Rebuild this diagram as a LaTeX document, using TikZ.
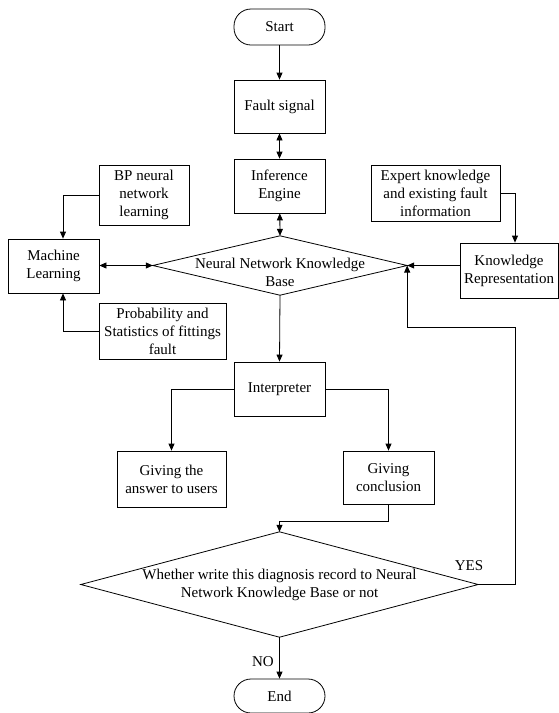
\documentclass[tikz,border=0pt]{standalone}
\usepackage{fontspec}
\setmainfont{Liberation Serif}
\usetikzlibrary{arrows.meta}
\begin{document}
\begin{tikzpicture}[x=1pt,y=-1pt,
  every node/.style={font=\fontsize{15}{18}\selectfont},
  box/.style={draw, line width=0.8pt, inner sep=0pt, align=center},
  term/.style={box, rounded corners=17pt, minimum width=91pt},
  shapebox/.style={inner sep=0pt},
  ln/.style={line width=0.8pt},
  arr/.style={ln, -{Triangle[length=7pt,width=6pt]}},
  darr/.style={ln, {Triangle[length=7pt,width=6pt]}-{Triangle[length=7pt,width=6pt]}}]
\useasboundingbox (0,0) rectangle (559,713);
% terminals
\node[term, minimum height=36pt] (start) at (279.5,27) {Start};
\node[term, minimum height=34pt] (end) at (279.5,696) {End};
% boxes
\node[box, minimum width=91pt, minimum height=53pt] (fault) at (279.5,106.5) {Fault signal};
\node[box, minimum width=91pt, minimum height=54pt] (infer) at (279.5,186) {Inference\\Engine};
\node[box, minimum width=90pt, minimum height=60pt] (bp) at (144,195) {BP neural\\network\\learning};
\node[box, minimum width=129pt, minimum height=56pt] (expert) at (435.5,193) {Expert knowledge\\and existing fault\\information};
\node[box, minimum width=91pt, minimum height=54pt] (ml) at (53.5,266) {Machine\\Learning};
\node[box, minimum width=98pt, minimum height=55pt] (kr) at (509,270.5) {Knowledge\\Representation};
\node[box, minimum width=127pt, minimum height=56pt] (prob) at (162.5,331) {Probability and\\Statistics of fittings\\fault};
\node[box, minimum width=91pt, minimum height=54pt] (interp) at (279.5,389) {Interpreter};
\node[box, minimum width=109pt, minimum height=56pt] (ans) at (171.5,479) {Giving the\\answer to users};
\node[box, minimum width=91pt, minimum height=53pt] (concl) at (388.5,477.5) {Giving\\conclusion};
% diamonds
\node[shapebox, minimum width=254pt, minimum height=59pt] (kb) at (280,265.5) {};
\draw[ln] (kb.north) -- (kb.east) -- (kb.south) -- (kb.west) -- cycle;
\node[align=center, inner sep=0pt] (kbtext) at (280,272) {Neural Network Knowledge\\Base};
\node[shapebox, minimum width=397pt, minimum height=105pt] (dec) at (279.5,584.5) {};
\draw[ln] (dec.north) -- (dec.east) -- (dec.south) -- (dec.west) -- cycle;
\node[align=center, inner sep=0pt] (dectext) at (279.5,585) {Whether write this diagnosis record to Neural\\Network Knowledge Base or not};
% connectors
\draw[arr] (start) -- (fault);
\draw[darr] (fault) -- (infer);
\draw[darr] (infer) -- (kb.north);
\coordinate (mltop) at ([xshift=9.5pt]ml.north);
\coordinate (mlbot) at ([xshift=9.5pt]ml.south);
\draw[arr] (bp.west) -| (mltop);
\draw[arr] (prob.west) -| (mlbot);
\draw[darr] (ml.east |- kb.west) -- (kb.west);
\coordinate (krtop) at ([xshift=6pt]kr.north);
\draw[arr] (expert.east) -| (krtop);
\draw[arr] (kb.east -| kr.west) -- (kb.east);
\draw[arr] (kb.south) -- (interp.north);
\draw[arr] (interp.west) -| (ans.north);
\draw[arr] (interp.east) -| (concl.north);
\coordinate (join) at ([yshift=-17pt]concl.south);
\draw[arr] (concl.south) -- (join) -| (dec.north);
\draw[arr] (dec.south) -- node[left=2pt, pos=0.6] (nolab) {NO} (end.north);
\coordinate (loop) at (515,327);
\draw[arr] (dec.east) -| (loop) -| (kb.east);
\node (yeslab) at (469,566) {YES};
\end{tikzpicture}
\end{document}
